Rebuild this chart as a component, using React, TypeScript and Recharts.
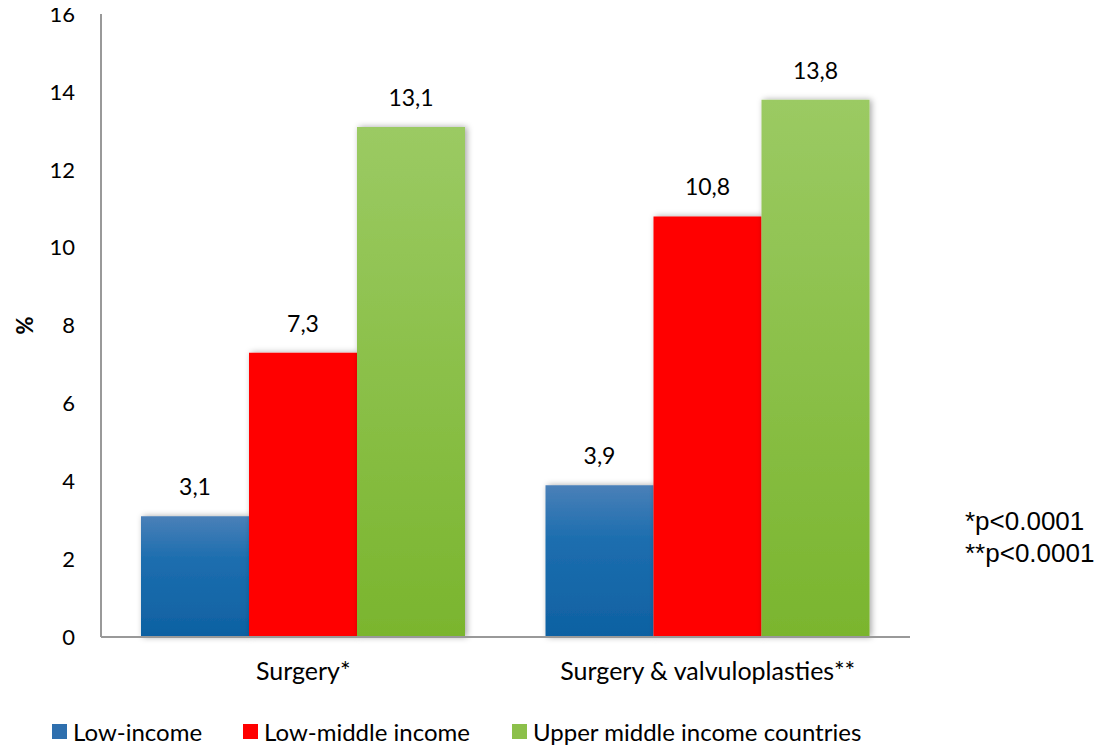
import React from "react";
import { BarChart, Bar, XAxis, YAxis, LabelList } from "recharts";

const categories = ["Surgery*", "Surgery & valvuloplasties**"];
const lowIncome = [3.1, 3.9];
const lowMiddleIncome = [7.3, 10.8];
const upperMiddleIncome = [13.1, 13.8];
const yTicks = [0, 2, 4, 6, 8, 10, 12, 14, 16];
const seriesNames = ["Low-income", "Low-middle income", "Upper middle income countries"];
const footnotes = ["*p<0.0001", "**p<0.0001"];

const data = categories.map((c, i) => ({
  name: c,
  low: lowIncome[i],
  lowMid: lowMiddleIncome[i],
  upper: upperMiddleIncome[i],
}));

const FONT = "Lato, 'Open Sans', sans-serif";
const fmt = (v: any) => String(v).replace(".", ",");

const legendColors = ["#2E6FAE", "#FF0000", "#8CC04A"];
const legendLefts = [52, 243, 512];

const labelStyle = { fill: "#000", fontSize: 23, fontFamily: FONT };

export default function App() {
  return (
    <div
      style={{
        position: "relative",
        width: 1112,
        height: 747,
        marginTop: -8,
        marginLeft: -8,
        marginRight: -8,
        marginBottom: 0,
        fontFamily: FONT,
      }}
    >
      <BarChart
        width={1112}
        height={747}
        data={data}
        margin={{ top: 14, right: 202, bottom: 80, left: 41 }}
        barCategoryGap={40}
        barGap={0}
      >
        <defs>
          <linearGradient id="gBlue" x1="0" y1="0" x2="0" y2="1">
            <stop offset="0%" stopColor="#4A80B8" />
            <stop offset="35%" stopColor="#1D6EAF" />
            <stop offset="100%" stopColor="#0E61A2" />
          </linearGradient>
          <linearGradient id="gGreen" x1="0" y1="0" x2="0" y2="1">
            <stop offset="0%" stopColor="#9BCA63" />
            <stop offset="100%" stopColor="#7AB52E" />
          </linearGradient>
          <filter id="shadow" x="-10%" y="-10%" width="130%" height="120%">
            <feDropShadow dx="2" dy="0" stdDeviation="3" floodColor="#000" floodOpacity="0.35" />
          </filter>
        </defs>
        <XAxis
          dataKey="name"
          height={30}
          axisLine={{ stroke: "#999", strokeWidth: 2 }}
          tickLine={false}
          tickSize={0}
          tickMargin={25}
          tick={{ fill: "#000", fontSize: 25, fontFamily: FONT }}
        />
        <YAxis
          width={60}
          domain={[0, 16]}
          ticks={yTicks}
          interval={0}
          axisLine={{ stroke: "#999", strokeWidth: 2 }}
          tickLine={false}
          tickSize={0}
          tickMargin={26}
          tick={{ fill: "#000", fontSize: 22, fontFamily: FONT }}
          label={{
            value: "%",
            angle: -90,
            position: "insideLeft",
            offset: -16,
            style: { fill: "#000", fontSize: 22, fontWeight: "bold", fontFamily: FONT, textAnchor: "middle" },
          }}
        />
        <Bar dataKey="low" name={seriesNames[0]} fill="url(#gBlue)" isAnimationActive={false} filter="url(#shadow)">
          <LabelList dataKey="low" position="top" offset={21} formatter={fmt} style={labelStyle} />
        </Bar>
        <Bar dataKey="lowMid" name={seriesNames[1]} fill="#FF0000" isAnimationActive={false} filter="url(#shadow)">
          <LabelList dataKey="lowMid" position="top" offset={21} formatter={fmt} style={labelStyle} />
        </Bar>
        <Bar dataKey="upper" name={seriesNames[2]} fill="url(#gGreen)" isAnimationActive={false} filter="url(#shadow)">
          <LabelList dataKey="upper" position="top" offset={21} formatter={fmt} style={labelStyle} />
        </Bar>
      </BarChart>
      {seriesNames.map((n, i) => (
        <div
          key={n}
          style={{
            position: "absolute",
            left: legendLefts[i],
            top: 717,
            display: "flex",
            alignItems: "center",
            fontSize: 24,
            fontFamily: FONT,
            color: "#000",
            whiteSpace: "nowrap",
          }}
        >
          <span style={{ display: "inline-block", width: 15, height: 15, background: legendColors[i], marginRight: 6 }} />
          {n}
        </div>
      ))}
      <div
        style={{
          position: "absolute",
          left: 965,
          top: 505,
          fontFamily: "'Liberation Sans', Arial, sans-serif",
          fontSize: 26,
          lineHeight: "32px",
          color: "#000",
          whiteSpace: "nowrap",
        }}
      >
        {footnotes.map((f) => (
          <div key={f}>{f}</div>
        ))}
      </div>
    </div>
  );
}
